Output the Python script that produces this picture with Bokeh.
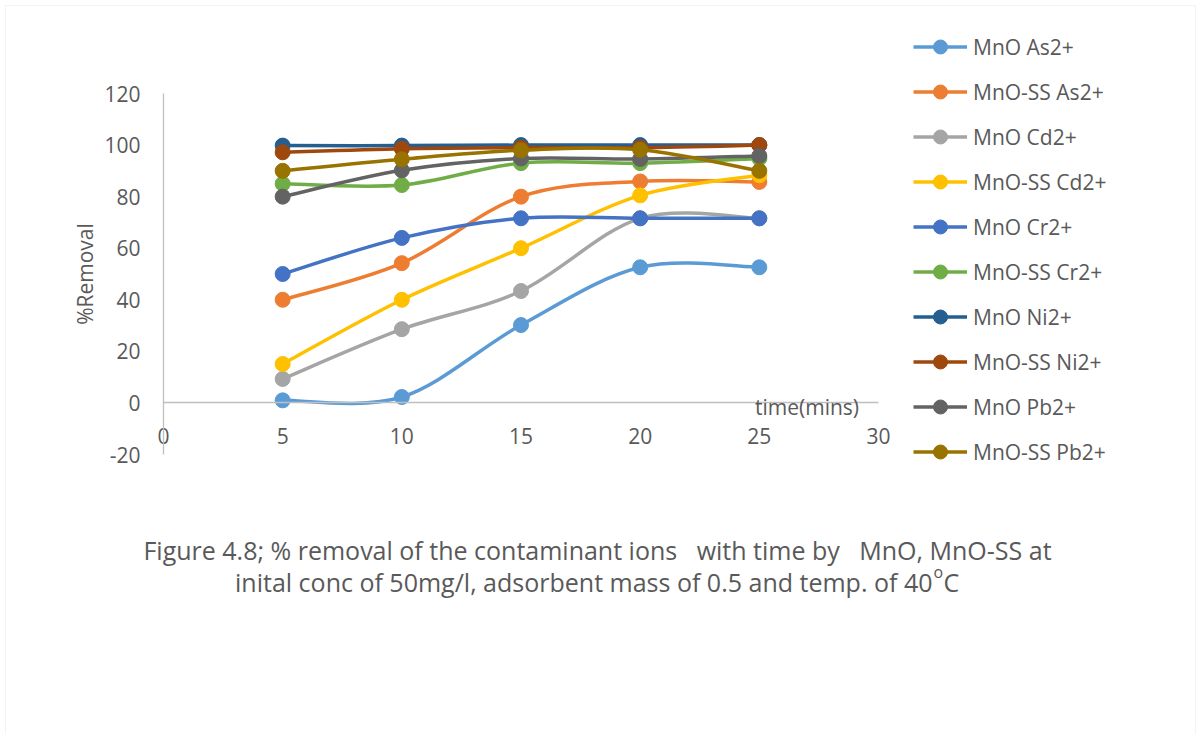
import math
from bokeh.plotting import figure
from bokeh.models import (Range1d, Legend, LegendItem, Label, ColumnDataSource,
                          BoxAnnotation, SingleIntervalTicker, NumeralTickFormatter)
from bokeh.embed import file_html
from bokeh.resources import INLINE

# Contact time (minutes)
time_min = [5, 10, 15, 20, 25]

# % removal of each ion by MnO and MnO-SS
series_names = ["MnO As2+", "MnO-SS As2+", "MnO Cd2+", "MnO-SS Cd2+", "MnO Cr2+",
                "MnO-SS Cr2+", "MnO Ni2+", "MnO-SS Ni2+", "MnO Pb2+", "MnO-SS Pb2+"]
mno_as = [1.0, 2.3, 30.2, 52.6, 52.6]
mnoss_as = [40.0, 54.2, 80.0, 85.9, 85.7]
mno_cd = [9.3, 28.6, 43.4, 71.6, 71.6]
mnoss_cd = [15.1, 40.0, 60.0, 80.5, 88.3]
mno_cr = [50.0, 64.0, 71.6, 71.6, 71.6]
mnoss_cr = [85.0, 84.5, 93.0, 93.0, 94.8]
mno_ni = [99.8, 99.8, 100.0, 100.0, 100.0]
mnoss_ni = [97.2, 98.6, 99.0, 99.0, 100.0]
mno_pb = [80.0, 90.2, 94.8, 94.6, 95.8]
mnoss_pb = [90.0, 94.5, 98.0, 98.2, 90.0]

series_values = [mno_as, mnoss_as, mno_cd, mnoss_cd, mno_cr,
                 mnoss_cr, mno_ni, mnoss_ni, mno_pb, mnoss_pb]
colors = ["#5B9BD5", "#ED7D31", "#A5A5A5", "#FFC000", "#4472C4",
          "#70AD47", "#255E91", "#9E480E", "#636363", "#997300"]

# axis extents of the plotted area
X_MIN, X_MAX = 0, 30
Y_MIN, Y_MAX = -20, 120

TEXT = "#595959"
FONT = "Open Sans"
NBSP = "\u00a0"

W, H = 1201, 734
FL, FR, FT, FB = 163, 878, 93, 454   # plot-area edges in pixels

# The canvas itself is the frame; the ranges are widened so that the
# axis extents land on the plot-area edges and the surrounding texts fit.
xs = (FR - FL) / (X_MAX - X_MIN)
ys = (FB - FT) / (Y_MAX - Y_MIN)
x_range = Range1d(X_MIN - FL / xs, X_MAX + (W - FR) / xs)
y_range = Range1d(Y_MIN - (H - FB) / ys, Y_MAX + FT / ys)

p = figure(width=W, height=H, x_range=x_range, y_range=y_range,
           output_backend="svg", toolbar_location=None, min_border=0)
p.outline_line_color = None
p.grid.visible = False
p.background_fill_color = "white"
p.border_fill_color = "white"

p.xaxis.fixed_location = 0
p.yaxis.fixed_location = X_MIN
p.xaxis.bounds = (X_MIN, X_MAX)
p.yaxis.bounds = (Y_MIN, Y_MAX)
p.xaxis.ticker = SingleIntervalTicker(interval=5)
p.yaxis.ticker = SingleIntervalTicker(interval=20)
for ax in (p.xaxis[0], p.yaxis[0]):
    ax.axis_line_color = "#BFBFBF"
    ax.axis_line_width = 1.3
    ax.major_tick_line_color = None
    ax.minor_tick_line_color = None
    ax.major_label_text_font = FONT
    ax.major_label_text_font_size = "21px"
    ax.major_label_text_color = TEXT
    ax.formatter = NumeralTickFormatter(format="0")
p.xaxis.major_label_standoff = 19
p.yaxis.major_label_standoff = 17

p.add_layout(Label(x=X_MIN - (FL - 84) / xs, y=(Y_MIN + Y_MAX) / 2, text="%Removal",
                   angle=math.pi / 2, text_align="center", text_baseline="middle",
                   text_font=FONT, text_font_size="21px", text_color=TEXT))
p.add_layout(Label(x=27, y=-1.6, text="time(mins)", text_align="center",
                   text_baseline="middle", text_font=FONT,
                   text_font_size="21px", text_color=TEXT))


def smooth_segments(xv, yv):
    """Cubic Bezier segments through the points (Catmull-Rom style smoothing)."""
    n = len(xv)
    seg = dict(x0=[], y0=[], x1=[], y1=[], cx0=[], cy0=[], cx1=[], cy1=[])
    for i in range(n - 1):
        xp, yp = (xv[i - 1], yv[i - 1]) if i > 0 else (xv[i], yv[i])
        xn, yn = (xv[i + 2], yv[i + 2]) if i + 2 < n else (xv[i + 1], yv[i + 1])
        seg["x0"].append(xv[i]); seg["y0"].append(yv[i])
        seg["x1"].append(xv[i + 1]); seg["y1"].append(yv[i + 1])
        seg["cx0"].append(xv[i] + (xv[i + 1] - xp) / 6)
        seg["cy0"].append(yv[i] + (yv[i + 1] - yp) / 6)
        seg["cx1"].append(xv[i + 1] - (xn - xv[i]) / 6)
        seg["cy1"].append(yv[i + 1] - (yn - yv[i]) / 6)
    return seg


items = []
for name, vals, col in zip(series_names, series_values, colors):
    p.bezier(x0="x0", y0="y0", x1="x1", y1="y1", cx0="cx0", cy0="cy0",
             cx1="cx1", cy1="cy1", source=ColumnDataSource(smooth_segments(time_min, vals)),
             line_color=col, line_width=3.5)
    key_line = p.line(x=[float("nan")], y=[float("nan")], line_color=col, line_width=3.5)
    pts = p.scatter(x=time_min, y=vals, marker="circle", size=15,
                    fill_color=col, line_color=col)
    items.append(LegendItem(label=name, renderers=[key_line, pts]))

legend = Legend(items=items, location=(913, H - 469), orientation="vertical",
                glyph_width=54, glyph_height=35, label_height=20,
                label_standoff=6, spacing=10, padding=0, margin=0,
                border_line_color=None, background_fill_alpha=0,
                label_text_font=FONT, label_text_font_size="21px",
                label_text_color=TEXT)
p.add_layout(legend)

# caption beneath the chart
cap1 = ("Figure 4.8; % removal of the contaminant ions" + NBSP * 3 +
        "with time by" + NBSP * 3 + "MnO, MnO-SS at")
cap2 = "inital conc of 50mg/l, adsorbent mass of 0.5 and temp. of 40"


def screen_label(txt, x, y, size, align):
    p.add_layout(Label(x=x, y=H - y, x_units="screen", y_units="screen",
                       text=txt, text_align=align, text_baseline="alphabetic",
                       text_font=FONT, text_font_size=size, text_color=TEXT))


screen_label(cap1, 597, 549, "25px", "center")
screen_label(cap2, 932, 581, "25px", "right")
screen_label("o", 933, 571, "16px", "left")
screen_label("C", 943, 581, "25px", "left")

# chart area border
p.add_layout(BoxAnnotation(left=5, right=1195, top=H - 5, bottom=-30,
                           left_units="screen", right_units="screen",
                           top_units="screen", bottom_units="screen",
                           fill_alpha=0, line_color="#D9D9D9", line_width=1))

open("out.html", "w").write(file_html(p, INLINE))
